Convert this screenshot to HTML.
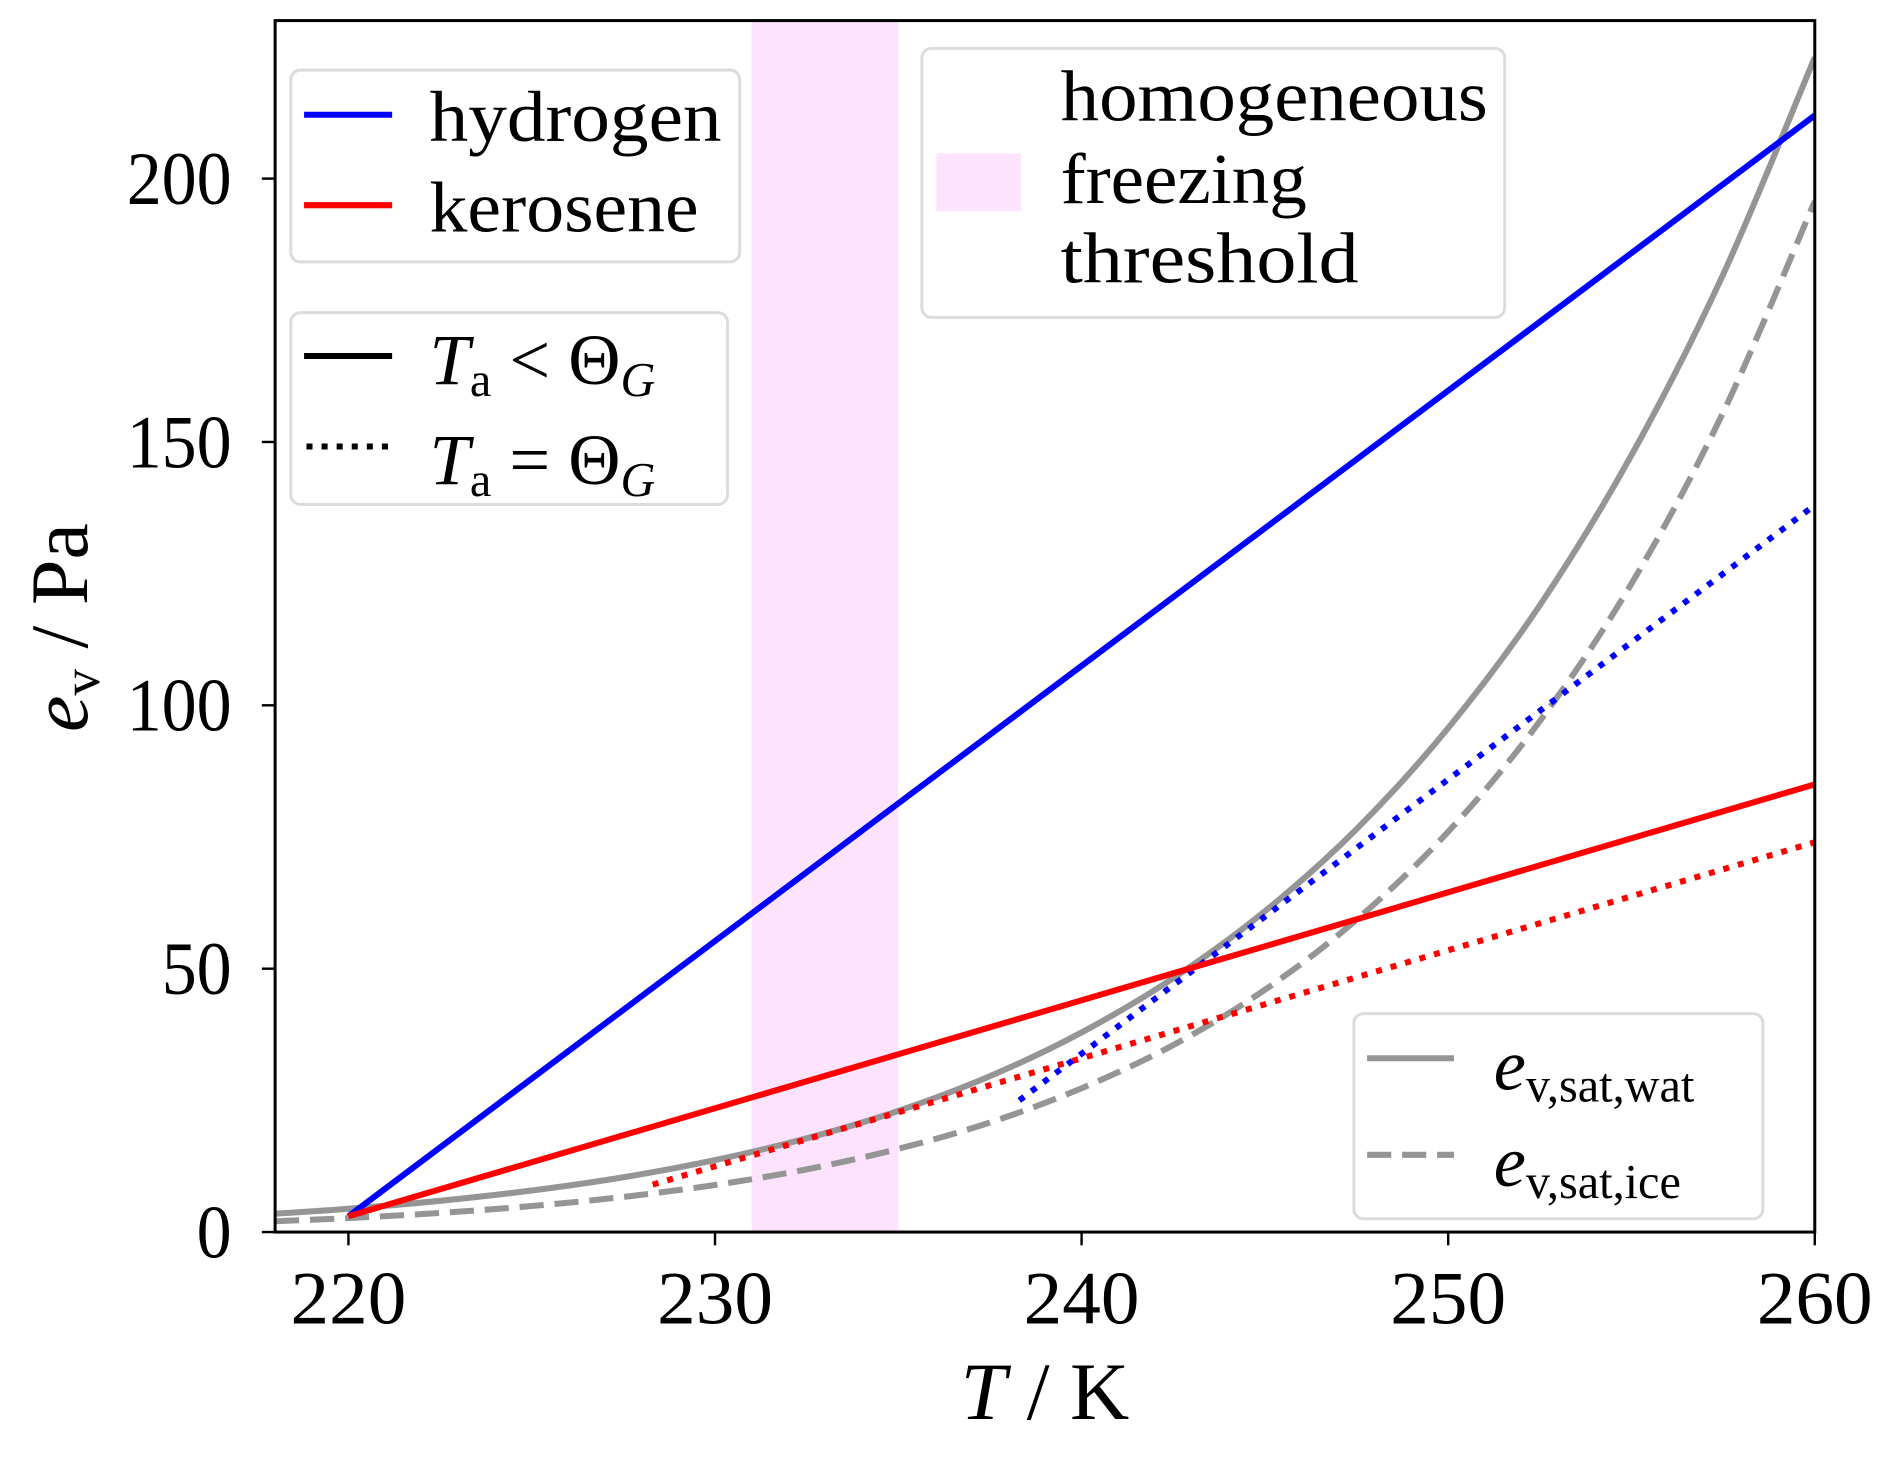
<!DOCTYPE html>
<html><head><meta charset="utf-8"><style>
html,body{margin:0;padding:0;background:#fff;}
svg{display:block;font-family:"Liberation Serif",serif;}
</style></head><body>
<svg id="chart" width="1892" height="1465" viewBox="0 0 1568 1214" xmlns="http://www.w3.org/2000/svg">
<g id="plot"></g>
</svg>
<script>
const temps = [218,220,222.5,225,227.5,230,232.5,235,237.5,240,242.5,245,247.5,250,252.5,255,257.5,260];
const satWater = [3.48,4.42,5.93,7.88,10.4,13.66,17.8,23.0,29.6,37.9,48.2,60.9,76.5,95.7,119.0,147.5,181.8,223];
const satIce = [2.05,2.65,3.63,4.94,6.67,8.94,11.9,15.8,20.8,27.3,35.5,46.0,59.3,76.0,97.0,123.1,155.6,195.7];
const hydrogenSolidT = [220,260], hydrogenSolidE = [3,212];
const keroseneSolidT = [220,260], keroseneSolidE = [3,85];
const hydrogenDotT = [238.3,260], hydrogenDotE = [25,138];
const keroseneDotT = [228.3,260], keroseneDotE = [9,74];
const bandT = [231,235];
const xTicks = [220,230,240,250,260];
const yTicks = [0,50,100,150,200];

const L=228,R=1504,T=17,B=1021;
const xMin=218,xMax=260,yMin=0,yMax=230;
const X=v=>L+(v-xMin)/(xMax-xMin)*(R-L);
const Y=v=>B-(v-yMin)/(yMax-yMin)*(B-T);
const NS="http://www.w3.org/2000/svg";
const g=document.getElementById('plot');
function mk(tag,attrs,parent){const e=document.createElementNS(NS,tag);for(const k in attrs)e.setAttribute(k,attrs[k]);(parent||g).appendChild(e);return e;}

const clip=mk('clipPath',{id:'clp'});mk('rect',{x:L,y:T,width:R-L,height:B-T},clip);

let band=mk('rect',{x:X(bandT[0]),y:T,width:X(bandT[1])-X(bandT[0]),height:B-T,fill:'#fde3fd'});



function smooth(ts,es){
  const p=ts.map((t,i)=>[X(t),Y(es[i])]);
  let d=`M${p[0][0]},${p[0][1]}`;
  for(let i=0;i<p.length-1;i++){
    const p0=p[Math.max(0,i-1)],p1=p[i],p2=p[i+1],p3=p[Math.min(p.length-1,i+2)];
    d+=` C${p1[0]+(p2[0]-p0[0])/6},${p1[1]+(p2[1]-p0[1])/6} ${p2[0]-(p3[0]-p1[0])/6},${p2[1]-(p3[1]-p1[1])/6} ${p2[0]},${p2[1]}`;
  }
  return d;
}
function line(ts,es){return ts.map((t,i)=>(i?'L':'M')+X(t)+','+Y(es[i])).join(' ');}

let w=mk('path',{d:smooth(temps,satWater),fill:'none',stroke:'#959595','stroke-width':5,'clip-path':'url(#clp)'});


let ic=mk('path',{d:smooth(temps,satIce),fill:'none',stroke:'#959595','stroke-width':5,'stroke-dasharray':'20 9','clip-path':'url(#clp)'});


let kd=mk('path',{d:line(keroseneDotT,keroseneDotE),fill:'none',stroke:'#ff0000','stroke-width':5,'stroke-dasharray':'5 7.5'});


let hd=mk('path',{d:line(hydrogenDotT,hydrogenDotE),fill:'none',stroke:'#0000ff','stroke-width':5,'stroke-dasharray':'5 7.5'});


let hs=mk('path',{d:line(hydrogenSolidT,hydrogenSolidE),fill:'none',stroke:'#0000ff','stroke-width':5});


let ks=mk('path',{d:line(keroseneSolidT,keroseneSolidE),fill:'none',stroke:'#ff0000','stroke-width':5});



let fr=mk('rect',{x:L,y:T,width:R-L,height:B-T,fill:'none',stroke:'#000','stroke-width':2.5});



xTicks.forEach(t=>{
  mk('line',{x1:X(t),x2:X(t),y1:B,y2:B+11,stroke:'#000','stroke-width':2});
  let tx=mk('text',{x:X(t),y:1097,'font-size':62,'text-anchor':'middle',textLength:96,lengthAdjust:'spacingAndGlyphs'});tx.textContent=t;
  
  
});
yTicks.forEach(v=>{
  const s=String(v);
  let tx=mk('text',{x:192,y:Y(v)+21,'font-size':62,'text-anchor':'end',textLength:s.length*29,lengthAdjust:'spacingAndGlyphs'});tx.textContent=s;
  mk('line',{x1:L,x2:L-11,y1:Y(v),y2:Y(v),stroke:'#000','stroke-width':2});
  
  
});
</script>
<svg style="position:absolute;left:0;top:0" width="1892" height="1465" viewBox="0 0 1568 1214" xmlns="http://www.w3.org/2000/svg" font-family="Liberation Serif, serif">
<text x="866" y="1176" font-size="68" text-anchor="middle"><tspan font-style="italic">T</tspan> / K</text>
<text transform="translate(72,520) rotate(-90)" font-size="68" text-anchor="middle"><tspan font-style="italic">e</tspan><tspan font-size="44" dy="10">v</tspan><tspan dy="-10"> / Pa</tspan></text>
<g>
<rect x="241" y="58" width="372" height="159" rx="8" fill="#fff" fill-opacity="0.85" stroke="#dcdcdc" stroke-width="2.5"/>
<line x1="252" x2="325" y1="95" y2="95" stroke="#0000ff" stroke-width="5"/>
<text x="356" y="117" font-size="60" textLength="242" lengthAdjust="spacingAndGlyphs">hydrogen</text>
<line x1="252" x2="325" y1="170" y2="170" stroke="#ff0000" stroke-width="5"/>
<text x="356" y="192" font-size="60" textLength="223" lengthAdjust="spacingAndGlyphs">kerosene</text>
</g>
<g>
<rect x="241" y="259" width="362" height="159" rx="8" fill="#fff" fill-opacity="0.85" stroke="#dcdcdc" stroke-width="2.5"/>
<line x1="252" x2="325" y1="295" y2="295" stroke="#000" stroke-width="5"/>
<text x="356" y="318" font-size="60"><tspan font-style="italic">T</tspan><tspan font-size="40" dy="10">a</tspan><tspan dy="-10"> &lt; Θ</tspan><tspan font-style="italic" font-size="40" dy="10">G</tspan></text>
<line x1="254" x2="325" y1="370" y2="370" stroke="#000" stroke-width="5" stroke-dasharray="5 7.5"/>
<text x="356" y="401" font-size="60"><tspan font-style="italic">T</tspan><tspan font-size="40" dy="10">a</tspan><tspan dy="-10"> = Θ</tspan><tspan font-style="italic" font-size="40" dy="10">G</tspan></text>
</g>
<g>
<rect x="764" y="40" width="483" height="223" rx="8" fill="#fff" fill-opacity="0.85" stroke="#dcdcdc" stroke-width="2.5"/>
<rect x="776" y="127" width="70" height="48" fill="#fde3fd"/>
<text x="879" y="100" font-size="60" textLength="354" lengthAdjust="spacingAndGlyphs">homogeneous</text>
<text x="879" y="168" font-size="60" textLength="204" lengthAdjust="spacingAndGlyphs">freezing</text>
<text x="879" y="234" font-size="60" textLength="247" lengthAdjust="spacingAndGlyphs">threshold</text>
</g>
<g>
<rect x="1122" y="840" width="339" height="170" rx="8" fill="#fff" fill-opacity="0.85" stroke="#dcdcdc" stroke-width="2.5"/>
<line x1="1133" x2="1205" y1="877" y2="877" stroke="#959595" stroke-width="5"/>
<text x="1238" y="903" font-size="60"><tspan font-style="italic">e</tspan><tspan font-size="40" dy="10">v,sat,wat</tspan></text>
<line x1="1133" x2="1205" y1="957" y2="957" stroke="#959595" stroke-width="5" stroke-dasharray="20 9"/>
<text x="1238" y="983" font-size="60"><tspan font-style="italic">e</tspan><tspan font-size="40" dy="10">v,sat,ice</tspan></text>
</g>
</svg>
</body></html>
